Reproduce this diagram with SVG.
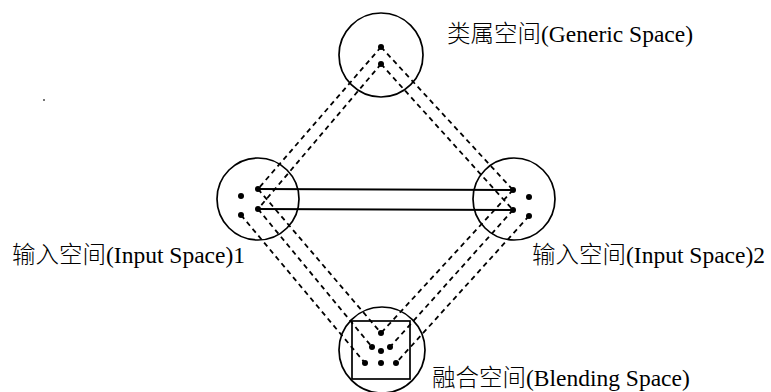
<svg xmlns="http://www.w3.org/2000/svg" width="771" height="392" viewBox="0 0 771 392">
<style>
.c{fill:none;stroke:#000;stroke-width:1.7}
.d{fill:#000}
.dash{stroke:#000;stroke-width:1.8;stroke-dasharray:5 4;fill:none}
.solid{stroke:#000;stroke-width:2;fill:none}
.t{font-size:23.5px;fill:#000}
.z{font-family:"Noto Sans CJK SC",sans-serif;font-weight:300}
.l{font-family:"Liberation Serif","Times New Roman",serif}
</style>
<rect x="0" y="0" width="771" height="392" fill="#fff"/>
<rect x="43" y="99" width="2" height="2" fill="#777"/>
<g id="connectors">
<line class="dash" x1="381" y1="47" x2="258" y2="189"/>
<line class="dash" x1="381" y1="64" x2="258" y2="209"/>
<line class="dash" x1="381" y1="47" x2="513" y2="190"/>
<line class="dash" x1="381" y1="64" x2="513" y2="210"/>
<line class="dash" x1="258" y1="189" x2="381" y2="333"/>
<line class="dash" x1="258" y1="209" x2="372" y2="347"/>
<line class="dash" x1="241" y1="215" x2="365" y2="363"/>
<line class="dash" x1="513" y1="190" x2="381" y2="333"/>
<line class="dash" x1="513" y1="210" x2="390" y2="347"/>
<line class="dash" x1="529" y1="216" x2="396" y2="363"/>
<line class="solid" x1="258" y1="189" x2="513" y2="190"/>
<line class="solid" x1="258" y1="209" x2="513" y2="210"/>
</g>
<g id="generic">
<circle class="c" cx="381" cy="55" r="42"/>
<circle class="d" cx="381" cy="47" r="3"/>
<circle class="d" cx="381" cy="64" r="3"/>
<text class="t" x="447" y="42"><tspan class="z">类属空间</tspan><tspan class="l">(Generic Space)</tspan></text>
</g>
<g id="input1">
<circle class="c" cx="258" cy="199" r="41"/>
<circle class="d" cx="258" cy="189" r="3"/>
<circle class="d" cx="258" cy="209" r="3"/>
<circle class="d" cx="241" cy="196" r="3"/>
<circle class="d" cx="241" cy="215" r="3"/>
<text class="t" x="12" y="263"><tspan class="z">输入空间</tspan><tspan class="l">(Input Space)1</tspan></text>
</g>
<g id="input2">
<circle class="c" cx="514" cy="199" r="41"/>
<circle class="d" cx="513" cy="190" r="3"/>
<circle class="d" cx="513" cy="210" r="3"/>
<circle class="d" cx="529" cy="197" r="3"/>
<circle class="d" cx="529" cy="216" r="3"/>
<text class="t" x="532" y="263"><tspan class="z">输入空间</tspan><tspan class="l">(Input Space)2</tspan></text>
</g>
<g id="blending">
<circle class="c" cx="382" cy="350" r="43"/>
<rect class="c" x="352" y="321" width="58" height="58"/>
<circle class="d" cx="381" cy="333" r="3"/>
<circle class="d" cx="372" cy="347" r="3"/>
<circle class="d" cx="381" cy="351" r="3"/>
<circle class="d" cx="390" cy="347" r="3"/>
<circle class="d" cx="365" cy="363" r="3"/>
<circle class="d" cx="381" cy="363" r="3"/>
<circle class="d" cx="396" cy="363" r="3"/>
<text class="t" x="432" y="386"><tspan class="z">融合空间</tspan><tspan class="l">(Blending Space)</tspan></text>
</g>
</svg>
